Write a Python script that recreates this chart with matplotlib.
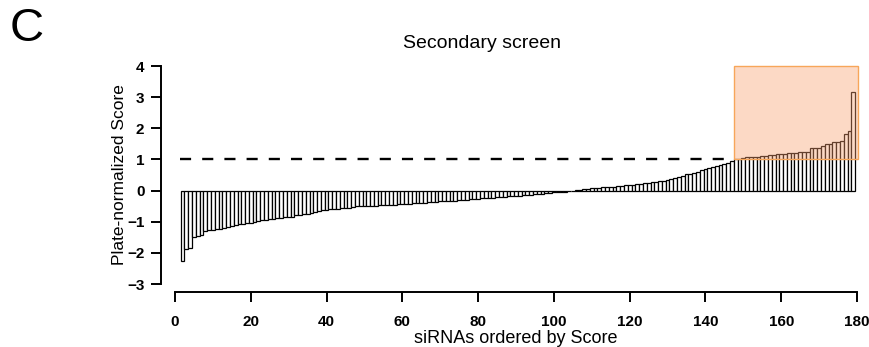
import numpy as np
import matplotlib
matplotlib.use('Agg')
import matplotlib.pyplot as plt
from matplotlib.patches import Rectangle

plt.rcParams['font.family'] = ['Liberation Sans', 'DejaVu Sans']

# scores of the siRNAs, sorted ascending
scores = [
    -2.25, -1.88, -1.84, -1.50, -1.46, -1.43, -1.30, -1.27, -1.25, -1.24,
    -1.22, -1.20, -1.17, -1.14, -1.12, -1.08, -1.06, -1.05, -1.04, -1.02,
    -0.98, -0.96, -0.93, -0.92, -0.90, -0.88, -0.87, -0.86, -0.86, -0.85,
    -0.80, -0.78, -0.76, -0.74, -0.72, -0.70, -0.66, -0.63, -0.61, -0.60,
    -0.59, -0.58, -0.57, -0.56, -0.55, -0.52, -0.51, -0.50, -0.50, -0.49,
    -0.48, -0.48, -0.47, -0.47, -0.46, -0.45, -0.45, -0.44, -0.43, -0.42,
    -0.42, -0.41, -0.41, -0.40, -0.39, -0.38, -0.37, -0.36, -0.35, -0.34,
    -0.34, -0.33, -0.32, -0.31, -0.30, -0.29, -0.28, -0.27, -0.26, -0.25,
    -0.24, -0.23, -0.23, -0.22, -0.21, -0.20, -0.19, -0.18, -0.17, -0.16,
    -0.15, -0.14, -0.13, -0.12, -0.11, -0.10, -0.08, -0.07, -0.06, -0.05,
    -0.04, -0.03, -0.02, -0.01, 0.01, 0.02, 0.04, 0.06, 0.07, 0.08,
    0.09, 0.10, 0.11, 0.12, 0.13, 0.15, 0.16, 0.17, 0.18, 0.19,
    0.21, 0.22, 0.24, 0.25, 0.27, 0.28, 0.30, 0.32, 0.35, 0.37,
    0.41, 0.44, 0.48, 0.52, 0.54, 0.57, 0.61, 0.65, 0.70, 0.73,
    0.76, 0.79, 0.82, 0.85, 0.89, 0.94, 1.00, 1.02, 1.05, 1.07,
    1.07, 1.09, 1.09, 1.11, 1.11, 1.14, 1.14, 1.18, 1.18, 1.19,
    1.20, 1.21, 1.21, 1.23, 1.25, 1.25, 1.36, 1.38, 1.38, 1.43,
    1.49, 1.51, 1.55, 1.55, 1.58, 1.83, 1.90, 3.18,
]
threshold = 1.0
hit_start = 147.5
x_ticks = [0, 20, 40, 60, 80, 100, 120, 140, 160, 180]
y_ticks = [-3, -2, -1, 0, 1, 2, 3, 4]

fig = plt.figure(figsize=(8.69, 3.47), dpi=100)
ax = fig.add_axes([175 / 869, 63 / 347, 682 / 869, 218 / 347])

pos = np.arange(1, len(scores) + 1) + 1
ax.bar(pos, scores, width=1.0, color='white', edgecolor='black', linewidth=0.9, zorder=2)

# threshold line
ax.hlines(threshold, 1.2, hit_start, colors='black', linewidth=1.7,
          linestyles=(0, (4.7, 4.7)), zorder=3)

# hit region
ax.add_patch(Rectangle((hit_start, threshold), 180.2 - hit_start, 4 - threshold,
                       facecolor=(0.973, 0.627, 0.439, 0.4), edgecolor='#f7a65a',
                       linewidth=1.0, zorder=4, clip_on=False))

ax.set_xlim(0, 180)
ax.set_ylim(-3, 4)
ax.set_xticks(x_ticks)
ax.set_yticks(y_ticks)
ax.spines['top'].set_visible(False)
ax.spines['right'].set_visible(False)
ax.spines['left'].set_position(('outward', 10))
ax.spines['bottom'].set_position(('outward', 6))
ax.spines['left'].set_bounds(-3, 4)
ax.spines['bottom'].set_bounds(0, 180)
for s in ['left', 'bottom']:
    ax.spines[s].set_linewidth(1.4)
ax.tick_params(axis='both', direction='out', length=7, width=1.4, labelsize=11, pad=5)
ax.tick_params(axis='x', pad=9)
for lab in ax.get_xticklabels() + ax.get_yticklabels():
    lab.set_fontweight('bold')

ax.set_xlabel('siRNAs ordered by Score', fontsize=13, labelpad=1)
ax.set_ylabel('Plate-normalized Score', fontsize=12.5, labelpad=0)

fig.text(482 / 869, 1 - 44 / 347, 'Secondary screen', fontsize=14, ha='center', va='center')
fig.text(10 / 869, 1 - 29 / 347, 'C', fontsize=34, ha='left', va='center')

fig.savefig('out.png', dpi=100)
